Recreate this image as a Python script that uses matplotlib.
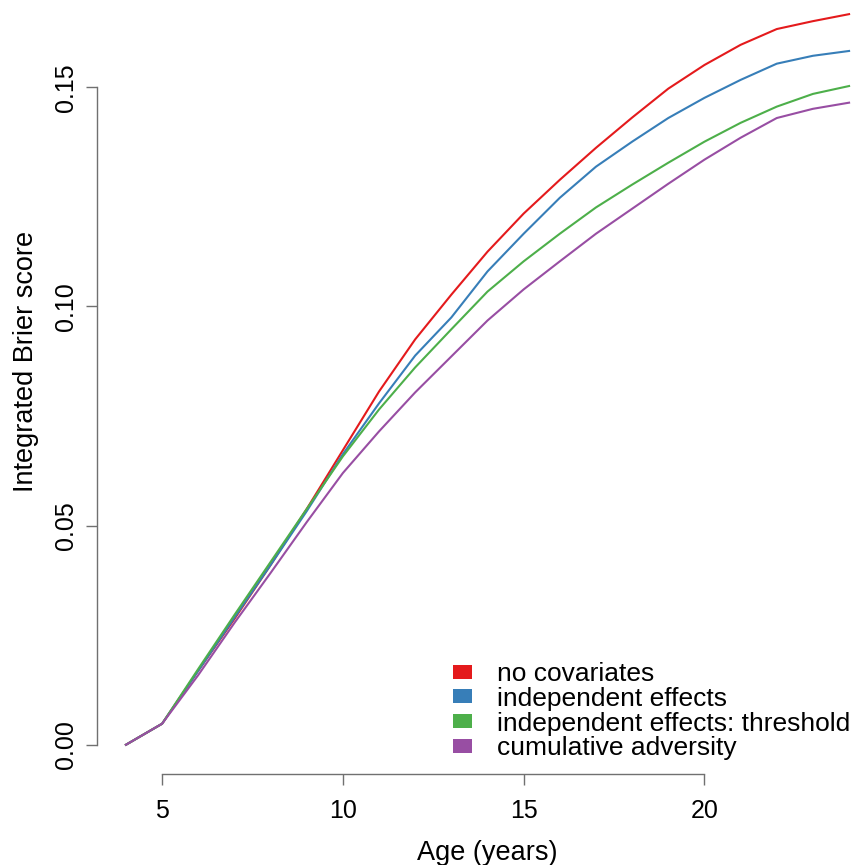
import numpy as np
import matplotlib
matplotlib.use('Agg')
import matplotlib.pyplot as plt
from matplotlib.patches import Patch

plt.rcParams['font.family'] = ['Liberation Sans', 'DejaVu Sans']

age = np.arange(4, 25)

no_covariates = [0.0, 0.0048, 0.0169, 0.0287, 0.0410, 0.0538, 0.0672, 0.0806,
                 0.0925, 0.1027, 0.1125, 0.1212, 0.1289, 0.1362, 0.1431, 0.1497,
                 0.1551, 0.1597, 0.1633, 0.1651, 0.1667]
independent = [0.0, 0.0048, 0.0169, 0.0290, 0.0410, 0.0533, 0.0663, 0.0779,
               0.0888, 0.0975, 0.1080, 0.1166, 0.1248, 0.1319, 0.1376, 0.1430,
               0.1476, 0.1517, 0.1554, 0.1572, 0.1583]
threshold = [0.0, 0.0048, 0.0173, 0.0296, 0.0417, 0.0538, 0.0658, 0.0765,
             0.0861, 0.0948, 0.1034, 0.1103, 0.1166, 0.1226, 0.1278, 0.1328,
             0.1376, 0.1419, 0.1456, 0.1485, 0.1503]
cumulative = [0.0, 0.0048, 0.0159, 0.0278, 0.0392, 0.0508, 0.0620, 0.0715,
              0.0804, 0.0886, 0.0968, 0.1039, 0.1103, 0.1166, 0.1223, 0.1280,
              0.1335, 0.1385, 0.1430, 0.1451, 0.1465]

labels = ['no covariates', 'independent effects',
          'independent effects: threshold', 'cumulative adversity']
colors = ['#E41A1C', '#377EB8', '#4DAF4A', '#984EA3']
series = [no_covariates, independent, threshold, cumulative]

W, H = 854, 865
fig = plt.figure(figsize=(W / 100, H / 100), dpi=100)
# axes box in pixels: left 97, right 878, bottom 774, top -15
ax = fig.add_axes([97 / W, (H - 774) / H, (878 - 97) / W, (774 + 15) / H])

for y, c in zip(series, colors):
    ax.plot(age, y, color=c, lw=1.5)

ax.set_xlim(3.2, 24.8)
ax.set_ylim(-0.00667, 0.17335)

for s in ['top', 'right']:
    ax.spines[s].set_visible(False)
ax.spines['left'].set_bounds(0, 0.15)
ax.spines['bottom'].set_bounds(5, 20)
for s in ['left', 'bottom']:
    ax.spines[s].set_color('#707070')
    ax.spines[s].set_linewidth(1.0)

ax.set_xticks([5, 10, 15, 20])
ax.set_yticks([0.0, 0.05, 0.10, 0.15])
ax.set_yticklabels(['0.00', '0.05', '0.10', '0.15'], rotation=90, va='center')
ax.tick_params(axis='both', labelsize=18, length=8, width=1.0, color='#707070')
ax.tick_params(axis='x', pad=10)
ax.tick_params(axis='y', pad=6)

ax.set_xlabel('Age (years)', fontsize=19.5, labelpad=12)
ax.set_ylabel('Integrated Brier score', fontsize=19.5, labelpad=10.5)
ax.yaxis.label.set_y(0.523)

handles = [Patch(facecolor=c, edgecolor='none') for c in colors]
leg = ax.legend(handles, labels, loc='upper left',
                bbox_to_anchor=(453 / W, (H - 662) / H),
                bbox_transform=fig.transFigure, frameon=False, fontsize=19,
                handlelength=0.72, handleheight=0.45, handletextpad=0.95,
                labelspacing=0.03, borderpad=0, borderaxespad=0)

fig.savefig('out.png', dpi=100)
